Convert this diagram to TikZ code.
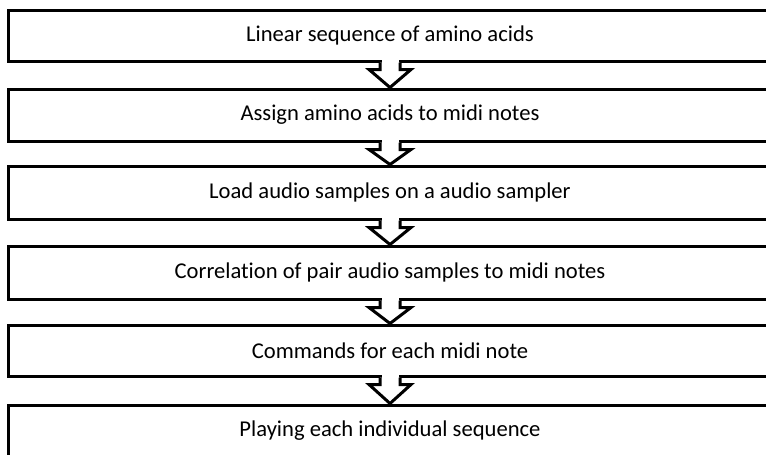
\documentclass[tikz,border=0pt]{standalone}
\usepackage{fontspec}
\setmainfont{Carlito}[Ligatures=NoCommon]
\usetikzlibrary{calc}
\tikzset{
  stage/.style={draw=black, line width=3pt, fill=white, minimum width=764pt,
    inner sep=0pt, font=\fontsize{22.6}{26}\selectfont, text=black},
  flowarrow/.style={draw=black, line width=3pt, fill=white, line join=miter}
}
% block arrow from the bottom of box #1 to the top of box #2
\newcommand{\flowstep}[2]{%
  \fill[white] ($(#1.south)+(-8.5,-2.2)$) rectangle ($(#1.south)+(8.5,2)$);
  \path[flowarrow] ($(#1.south)+(-10,0)$) -- ($(#1.south)+(-10,7)$)
    -- ($(#1.south)+(-21,7)$) -- (#2.north) -- ($(#1.south)+(21,7)$)
    -- ($(#1.south)+(10,7)$) -- ($(#1.south)+(10,0)$);
}
\begin{document}
\begin{tikzpicture}[x=1pt,y=-1pt]
\useasboundingbox (0,0) rectangle (766,455);
\clip (0,0) rectangle (766,455);
\node[stage, minimum height=51pt] (b1) at (390,35.5) {Linear sequence of amino acids};
\node[stage, minimum height=52pt] (b2) at (390,115) {Assign amino acids to midi notes};
\node[stage, minimum height=53pt] (b3) at (390,192.5) {Load audio samples on a audio sampler};
\node[stage, minimum height=53pt] (b4) at (390,272.5) {Correlation of pair audio samples to midi notes};
\node[stage, minimum height=51pt] (b5) at (390,350.5) {Commands for each midi note};
\node[stage, minimum height=52pt] (b6) at (390,431) {Playing each individual sequence};
\flowstep{b1}{b2}
\flowstep{b2}{b3}
\flowstep{b3}{b4}
\flowstep{b4}{b5}
\flowstep{b5}{b6}
\end{tikzpicture}
\end{document}
